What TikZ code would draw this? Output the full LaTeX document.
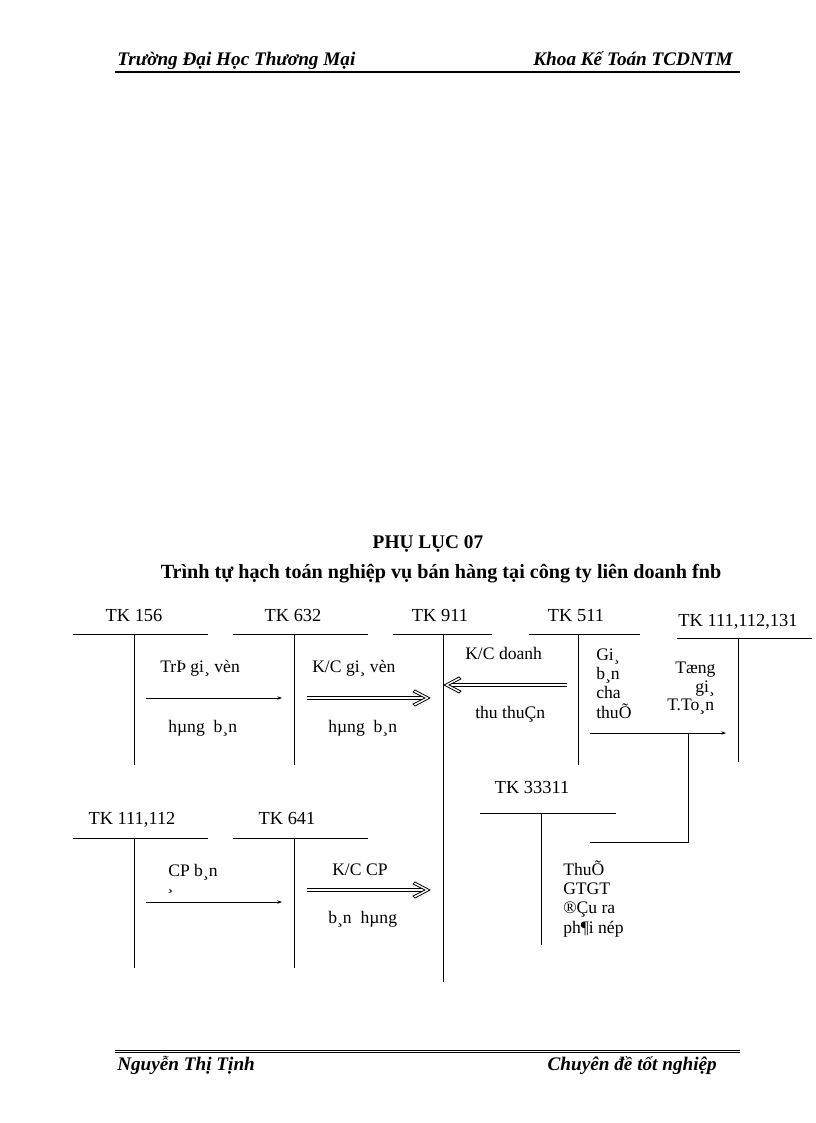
\documentclass[tikz,border=0pt]{standalone}
\usepackage{fontspec}
\setmainfont{Liberation Serif}
\usetikzlibrary{arrows.meta,calc}
\begin{document}
\begin{tikzpicture}[x=0.75pt,y=-0.75pt,
  tklabel/.style={font=\fontsize{13.8}{15}\selectfont, anchor=base, inner sep=0pt},
  txt/.style={font=\fontsize{13.2}{14}\selectfont, anchor=base west, inner sep=0pt},
  hdr/.style={font=\fontsize{14.4}{16}\selectfont\bfseries\itshape, inner sep=0pt},
  acct/.style={line width=0.7pt},
  thinarrow/.style={line width=0.6pt, -{Stealth[length=3.5pt,width=2.6pt]}},
  dblline/.style={double, line width=0.9pt, double distance=1.2pt},
  chev/.pic={\draw[line width=0.6pt, fill=white, line join=miter]
     (-15,-8) -- (0,0) -- (-15,8) -- (-17,6) -- (-5,0) -- (-17,-6) -- cycle;},
  plain/.style={line width=0.7pt}]
\useasboundingbox (0,0) rectangle (816,1123);

% header and footer
\node[hdr, anchor=base west] (hl) at (117,66) {Trường Đại Học Thương Mại};
\node[hdr, anchor=base east] (hr) at (733,66) {Khoa Kế Toán TCDNTM};
\coordinate (h1) at (115,72); \coordinate (h2) at (740,72);
\draw[line width=1.5pt] (h1) -- (h2);
\coordinate (f1) at (115,1050); \coordinate (f2) at (740,1050);
\coordinate (f3) at (115,1052.5); \coordinate (f4) at (740,1052.5);
\draw[line width=0.7pt] (f1) -- (f2);
\draw[line width=0.7pt] (f3) -- (f4);
\node[hdr, anchor=base west] (fl) at (117,1070) {Nguyễn Thị Tịnh};
\node[hdr, anchor=base east] (fr) at (717,1070) {Chuyên đề tốt nghiệp};

% titles
\node[font=\fontsize{14.5}{16}\selectfont\bfseries, anchor=base, inner sep=0pt] (title) at (428,548) {PHỤ LỤC 07};
\node[font=\fontsize{15.1}{17}\selectfont\bfseries, anchor=base, inner sep=0pt] (sub) at (441,578) {Trình tự hạch toán nghiệp vụ bán hàng tại công ty liên doanh fnb};

% T accounts
\node[tklabel] (L156) at (134,621) {TK 156};
\coordinate (a156l) at (73,634); \coordinate (a156r) at (208,634);
\coordinate (a156t) at (134,634); \coordinate (a156b) at (134,765);
\draw[acct] (a156l) -- (a156r) (a156t) -- (a156b);

\node[tklabel] (L632) at (293,621) {TK 632};
\coordinate (a632l) at (233,634); \coordinate (a632r) at (368,634);
\coordinate (a632t) at (294,634); \coordinate (a632b) at (294,765);
\draw[acct] (a632l) -- (a632r) (a632t) -- (a632b);

\node[tklabel] (L911) at (440,621) {TK 911};
\coordinate (a911l) at (393,634); \coordinate (a911r) at (492,634);
\coordinate (a911t) at (443,634); \coordinate (a911b) at (443,982);
\draw[acct] (a911l) -- (a911r) (a911t) -- (a911b);

\node[tklabel] (L511) at (576,621) {TK 511};
\coordinate (a511l) at (529,634); \coordinate (a511r) at (640,634);
\coordinate (a511t) at (578,634); \coordinate (a511b) at (578,765);
\draw[acct] (a511l) -- (a511r) (a511t) -- (a511b);

\node[tklabel] (L111) at (738,626) {TK 111,112,131};
\coordinate (a111l) at (677,638); \coordinate (a111r) at (812,638);
\coordinate (a111t) at (738,638); \coordinate (a111b) at (738,762);
\draw[acct] (a111l) -- (a111r) (a111t) -- (a111b);

\node[tklabel] (L333) at (532,793) {TK 33311};
\coordinate (a333l) at (480,813); \coordinate (a333r) at (616,813);
\coordinate (a333t) at (541,813); \coordinate (a333b) at (541,945);
\draw[acct] (a333l) -- (a333r) (a333t) -- (a333b);

\node[tklabel] (L1112) at (132,824) {TK 111,112};
\coordinate (a1112l) at (73,838); \coordinate (a1112r) at (208,838);
\coordinate (a1112t) at (134,838); \coordinate (a1112b) at (134,968);
\draw[acct] (a1112l) -- (a1112r) (a1112t) -- (a1112b);

\node[tklabel] (L641) at (287,824) {TK 641};
\coordinate (a641l) at (233,838); \coordinate (a641r) at (368,838);
\coordinate (a641t) at (294,838); \coordinate (a641b) at (294,968);
\draw[acct] (a641l) -- (a641r) (a641t) -- (a641b);

% arrows
\coordinate (t1s) at (146,698); \coordinate (t1e) at (282,698);
\draw[thinarrow] (t1s) -- (t1e);
\coordinate (d1s) at (307,698); \coordinate (d1e) at (430,698);
\draw[dblline] (d1s) -- ($(d1e)+(-5,0)$);
\pic at (d1e) {chev};
\coordinate (d2s) at (567,685); \coordinate (d2e) at (444,685);
\draw[dblline] (d2s) -- ($(d2e)+(5,0)$);
\pic[rotate=180] at (d2e) {chev};
\coordinate (t2s) at (590,733); \coordinate (t2e) at (726,733);
\draw[thinarrow] (t2s) -- (t2e);
\coordinate (v1) at (688,733); \coordinate (v2) at (688,842); \coordinate (v3) at (590,842);
\draw[plain] (v1) -- (v2) -- (v3);
\coordinate (t3s) at (146,902); \coordinate (t3e) at (282,902);
\draw[thinarrow] (t3s) -- (t3e);
\coordinate (d3s) at (307,890); \coordinate (d3e) at (430,890);
\draw[dblline] (d3s) -- ($(d3e)+(-5,0)$);
\pic at (d3e) {chev};

% labels
\node[txt] (n1) at (160,672) {TrÞ gi¸ vèn};
\node[txt] (n2) at (168,732) {hµng\ \ b¸n};
\node[txt] (n3) at (312,672) {K/C gi¸ vèn};
\node[txt] (n4) at (328,732) {hµng\ \ b¸n};
\node[txt] (n5) at (465,659) {K/C doanh};
\node[txt] (n6) at (475,718) {thu thuÇn};
\node[txt] (g1) at (596,660) {Gi¸};
\node[txt] (g2) at (596,679) {b¸n};
\node[txt] (g3) at (596,698) {cha};
\node[txt] (g4) at (596,718) {thuÕ};
\node[txt] (k1) at (675,673) {Tæng};
\node[txt] (k2) at (695,692) {gi¸};
\node[txt] (k3) at (667,710) {T.To¸n};
\node[txt] (c1) at (168,876) {CP b¸n};
\node[txt] (c2) at (167,889) {¸};
\node[txt] (c3) at (332,875) {K/C CP};
\node[txt] (c4) at (328,923) {b¸n\ \ hµng};
\node[txt] (s1) at (563,875) {ThuÕ};
\node[txt] (s2) at (563,894) {GTGT};
\node[txt] (s3) at (563,913) {®Çu ra};
\node[txt] (s4) at (563,933) {ph¶i nép};
\end{tikzpicture}
\end{document}
